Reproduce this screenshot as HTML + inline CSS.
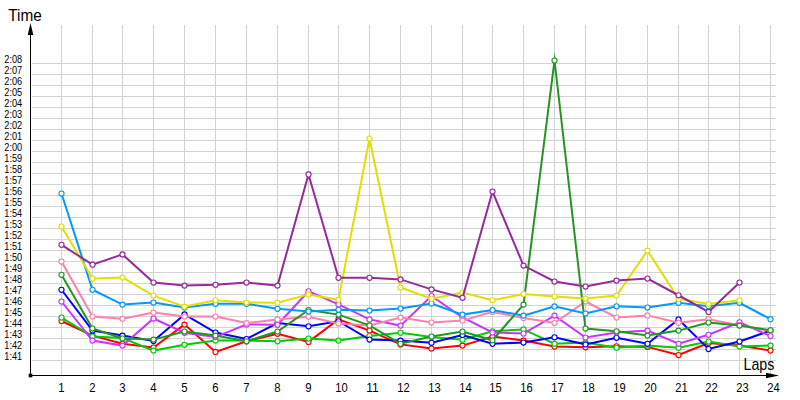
<!DOCTYPE html><html><head><meta charset="utf-8"><style>html,body{margin:0;padding:0;background:#fff}svg{display:block}text{font-family:"Liberation Sans",sans-serif;fill:#000}</style></head><body>
<svg width="800" height="400" viewBox="0 0 800 400">
<rect width="800" height="400" fill="#fff"/>
<g stroke="#d3d3d3" stroke-width="1" shape-rendering="crispEdges">
<line x1="61.5" y1="25" x2="61.5" y2="375"/>
<line x1="92.5" y1="25" x2="92.5" y2="375"/>
<line x1="122.5" y1="25" x2="122.5" y2="375"/>
<line x1="153.5" y1="25" x2="153.5" y2="375"/>
<line x1="184.5" y1="25" x2="184.5" y2="375"/>
<line x1="215.5" y1="25" x2="215.5" y2="375"/>
<line x1="246.5" y1="25" x2="246.5" y2="375"/>
<line x1="277.5" y1="25" x2="277.5" y2="375"/>
<line x1="308.5" y1="25" x2="308.5" y2="375"/>
<line x1="338.5" y1="25" x2="338.5" y2="375"/>
<line x1="369.5" y1="25" x2="369.5" y2="375"/>
<line x1="400.5" y1="25" x2="400.5" y2="375"/>
<line x1="431.5" y1="25" x2="431.5" y2="375"/>
<line x1="462.5" y1="25" x2="462.5" y2="375"/>
<line x1="492.5" y1="25" x2="492.5" y2="375"/>
<line x1="523.5" y1="25" x2="523.5" y2="375"/>
<line x1="554.5" y1="25" x2="554.5" y2="375"/>
<line x1="585.5" y1="25" x2="585.5" y2="375"/>
<line x1="616.5" y1="25" x2="616.5" y2="375"/>
<line x1="647.5" y1="25" x2="647.5" y2="375"/>
<line x1="678.5" y1="25" x2="678.5" y2="375"/>
<line x1="708.5" y1="25" x2="708.5" y2="375"/>
<line x1="739.5" y1="25" x2="739.5" y2="375"/>
<line x1="770.5" y1="25" x2="770.5" y2="375"/>
<line x1="32" y1="63.5" x2="776" y2="63.5"/>
<line x1="32" y1="74.5" x2="776" y2="74.5"/>
<line x1="32" y1="85.5" x2="776" y2="85.5"/>
<line x1="32" y1="96.5" x2="776" y2="96.5"/>
<line x1="32" y1="107.5" x2="776" y2="107.5"/>
<line x1="32" y1="118.5" x2="776" y2="118.5"/>
<line x1="32" y1="129.5" x2="776" y2="129.5"/>
<line x1="32" y1="140.5" x2="776" y2="140.5"/>
<line x1="32" y1="151.5" x2="776" y2="151.5"/>
<line x1="32" y1="162.5" x2="776" y2="162.5"/>
<line x1="32" y1="173.5" x2="776" y2="173.5"/>
<line x1="32" y1="184.5" x2="776" y2="184.5"/>
<line x1="32" y1="195.5" x2="776" y2="195.5"/>
<line x1="32" y1="206.5" x2="776" y2="206.5"/>
<line x1="32" y1="217.5" x2="776" y2="217.5"/>
<line x1="32" y1="228.5" x2="776" y2="228.5"/>
<line x1="32" y1="239.5" x2="776" y2="239.5"/>
<line x1="32" y1="250.5" x2="776" y2="250.5"/>
<line x1="32" y1="261.5" x2="776" y2="261.5"/>
<line x1="32" y1="272.5" x2="776" y2="272.5"/>
<line x1="32" y1="283.5" x2="776" y2="283.5"/>
<line x1="32" y1="294.5" x2="776" y2="294.5"/>
<line x1="32" y1="305.5" x2="776" y2="305.5"/>
<line x1="32" y1="316.5" x2="776" y2="316.5"/>
<line x1="32" y1="327.5" x2="776" y2="327.5"/>
<line x1="32" y1="338.5" x2="776" y2="338.5"/>
<line x1="32" y1="349.5" x2="776" y2="349.5"/>
<line x1="32" y1="360.5" x2="776" y2="360.5"/>
</g>
<g stroke="#000" stroke-width="1" shape-rendering="crispEdges"><line x1="30.5" y1="34" x2="30.5" y2="376"/><line x1="30" y1="375.5" x2="767" y2="375.5"/></g>
<rect x="28.7" y="373.7" width="3.6" height="3.6" fill="#000"/>
<path d="M30.5 23 L27.7 35 L33.3 35 Z" fill="#000"/>
<path d="M779 375.5 L766 372.8 L766 378.2 Z" fill="#000"/>
<text x="8.2" y="21" font-size="16.8" textLength="33.6" lengthAdjust="spacingAndGlyphs">Time</text>
<text x="743.5" y="369.7" font-size="17" textLength="30.8" lengthAdjust="spacingAndGlyphs">Laps</text>
<text x="4.3" y="63.0" font-size="10.4" textLength="17.9" lengthAdjust="spacingAndGlyphs">2:08</text>
<text x="4.3" y="74.0" font-size="10.4" textLength="17.9" lengthAdjust="spacingAndGlyphs">2:07</text>
<text x="4.3" y="85.0" font-size="10.4" textLength="17.9" lengthAdjust="spacingAndGlyphs">2:06</text>
<text x="4.3" y="96.0" font-size="10.4" textLength="17.9" lengthAdjust="spacingAndGlyphs">2:05</text>
<text x="4.3" y="107.0" font-size="10.4" textLength="17.9" lengthAdjust="spacingAndGlyphs">2:04</text>
<text x="4.3" y="118.0" font-size="10.4" textLength="17.9" lengthAdjust="spacingAndGlyphs">2:03</text>
<text x="4.3" y="129.0" font-size="10.4" textLength="17.9" lengthAdjust="spacingAndGlyphs">2:02</text>
<text x="4.3" y="140.0" font-size="10.4" textLength="17.9" lengthAdjust="spacingAndGlyphs">2:01</text>
<text x="4.3" y="151.0" font-size="10.4" textLength="17.9" lengthAdjust="spacingAndGlyphs">2:00</text>
<text x="4.3" y="162.0" font-size="10.4" textLength="17.9" lengthAdjust="spacingAndGlyphs">1:59</text>
<text x="4.3" y="173.0" font-size="10.4" textLength="17.9" lengthAdjust="spacingAndGlyphs">1:58</text>
<text x="4.3" y="184.0" font-size="10.4" textLength="17.9" lengthAdjust="spacingAndGlyphs">1:57</text>
<text x="4.3" y="195.0" font-size="10.4" textLength="17.9" lengthAdjust="spacingAndGlyphs">1:56</text>
<text x="4.3" y="206.0" font-size="10.4" textLength="17.9" lengthAdjust="spacingAndGlyphs">1:55</text>
<text x="4.3" y="217.0" font-size="10.4" textLength="17.9" lengthAdjust="spacingAndGlyphs">1:54</text>
<text x="4.3" y="228.0" font-size="10.4" textLength="17.9" lengthAdjust="spacingAndGlyphs">1:53</text>
<text x="4.3" y="239.0" font-size="10.4" textLength="17.9" lengthAdjust="spacingAndGlyphs">1:52</text>
<text x="4.3" y="250.0" font-size="10.4" textLength="17.9" lengthAdjust="spacingAndGlyphs">1:51</text>
<text x="4.3" y="261.0" font-size="10.4" textLength="17.9" lengthAdjust="spacingAndGlyphs">1:50</text>
<text x="4.3" y="272.0" font-size="10.4" textLength="17.9" lengthAdjust="spacingAndGlyphs">1:49</text>
<text x="4.3" y="283.0" font-size="10.4" textLength="17.9" lengthAdjust="spacingAndGlyphs">1:48</text>
<text x="4.3" y="294.0" font-size="10.4" textLength="17.9" lengthAdjust="spacingAndGlyphs">1:47</text>
<text x="4.3" y="305.0" font-size="10.4" textLength="17.9" lengthAdjust="spacingAndGlyphs">1:46</text>
<text x="4.3" y="316.0" font-size="10.4" textLength="17.9" lengthAdjust="spacingAndGlyphs">1:45</text>
<text x="4.3" y="327.0" font-size="10.4" textLength="17.9" lengthAdjust="spacingAndGlyphs">1:44</text>
<text x="4.3" y="338.0" font-size="10.4" textLength="17.9" lengthAdjust="spacingAndGlyphs">1:43</text>
<text x="4.3" y="349.0" font-size="10.4" textLength="17.9" lengthAdjust="spacingAndGlyphs">1:42</text>
<text x="4.3" y="360.0" font-size="10.4" textLength="17.9" lengthAdjust="spacingAndGlyphs">1:41</text>
<text x="58.3" y="392" font-size="12.6" textLength="6.3" lengthAdjust="spacingAndGlyphs">1</text>
<text x="89.3" y="392" font-size="12.6" textLength="6.3" lengthAdjust="spacingAndGlyphs">2</text>
<text x="119.3" y="392" font-size="12.6" textLength="6.3" lengthAdjust="spacingAndGlyphs">3</text>
<text x="150.3" y="392" font-size="12.6" textLength="6.3" lengthAdjust="spacingAndGlyphs">4</text>
<text x="181.3" y="392" font-size="12.6" textLength="6.3" lengthAdjust="spacingAndGlyphs">5</text>
<text x="212.3" y="392" font-size="12.6" textLength="6.3" lengthAdjust="spacingAndGlyphs">6</text>
<text x="243.3" y="392" font-size="12.6" textLength="6.3" lengthAdjust="spacingAndGlyphs">7</text>
<text x="274.3" y="392" font-size="12.6" textLength="6.3" lengthAdjust="spacingAndGlyphs">8</text>
<text x="305.3" y="392" font-size="12.6" textLength="6.3" lengthAdjust="spacingAndGlyphs">9</text>
<text x="335.3" y="392" font-size="12.6" textLength="12.4" lengthAdjust="spacingAndGlyphs">10</text>
<text x="366.3" y="392" font-size="12.6" textLength="12.4" lengthAdjust="spacingAndGlyphs">11</text>
<text x="397.3" y="392" font-size="12.6" textLength="12.4" lengthAdjust="spacingAndGlyphs">12</text>
<text x="428.3" y="392" font-size="12.6" textLength="12.4" lengthAdjust="spacingAndGlyphs">13</text>
<text x="459.3" y="392" font-size="12.6" textLength="12.4" lengthAdjust="spacingAndGlyphs">14</text>
<text x="489.3" y="392" font-size="12.6" textLength="12.4" lengthAdjust="spacingAndGlyphs">15</text>
<text x="520.3" y="392" font-size="12.6" textLength="12.4" lengthAdjust="spacingAndGlyphs">16</text>
<text x="551.3" y="392" font-size="12.6" textLength="12.4" lengthAdjust="spacingAndGlyphs">17</text>
<text x="582.3" y="392" font-size="12.6" textLength="12.4" lengthAdjust="spacingAndGlyphs">18</text>
<text x="613.3" y="392" font-size="12.6" textLength="12.4" lengthAdjust="spacingAndGlyphs">19</text>
<text x="644.3" y="392" font-size="12.6" textLength="12.4" lengthAdjust="spacingAndGlyphs">20</text>
<text x="675.3" y="392" font-size="12.6" textLength="12.4" lengthAdjust="spacingAndGlyphs">21</text>
<text x="705.3" y="392" font-size="12.6" textLength="12.4" lengthAdjust="spacingAndGlyphs">22</text>
<text x="736.3" y="392" font-size="12.6" textLength="12.4" lengthAdjust="spacingAndGlyphs">23</text>
<text x="767.3" y="392" font-size="12.6" textLength="12.4" lengthAdjust="spacingAndGlyphs">24</text>
<g stroke="#ff0000"><polyline points="61.5,321 92.5,335.6 122.5,343.75 153.5,347.5 184.5,324.6 215.5,351.9 246.5,341.25 277.5,333.75 308.5,341.9 338.5,319.4 369.5,330.6 400.5,344.4 431.5,348.5 462.5,345.6 492.5,336.5 523.5,340.6 554.5,346.5 585.5,347.25 616.5,346.25 647.5,346.9 678.5,355 708.5,343 739.5,345.6 770.5,350.6" fill="none" stroke-width="2" stroke-linejoin="miter" stroke-miterlimit="10"/>
<g fill="#fff" stroke-width="1.15"><circle cx="61.5" cy="321" r="2.55"/><circle cx="92.5" cy="335.6" r="2.55"/><circle cx="122.5" cy="343.75" r="2.55"/><circle cx="153.5" cy="347.5" r="2.55"/><circle cx="184.5" cy="324.6" r="2.55"/><circle cx="215.5" cy="351.9" r="2.55"/><circle cx="246.5" cy="341.25" r="2.55"/><circle cx="277.5" cy="333.75" r="2.55"/><circle cx="308.5" cy="341.9" r="2.55"/><circle cx="338.5" cy="319.4" r="2.55"/><circle cx="369.5" cy="330.6" r="2.55"/><circle cx="400.5" cy="344.4" r="2.55"/><circle cx="431.5" cy="348.5" r="2.55"/><circle cx="462.5" cy="345.6" r="2.55"/><circle cx="492.5" cy="336.5" r="2.55"/><circle cx="523.5" cy="340.6" r="2.55"/><circle cx="554.5" cy="346.5" r="2.55"/><circle cx="585.5" cy="347.25" r="2.55"/><circle cx="616.5" cy="346.25" r="2.55"/><circle cx="647.5" cy="346.9" r="2.55"/><circle cx="678.5" cy="355" r="2.55"/><circle cx="708.5" cy="343" r="2.55"/><circle cx="739.5" cy="345.6" r="2.55"/><circle cx="770.5" cy="350.6" r="2.55"/></g></g>
<g stroke="#00cc00"><polyline points="61.5,317.5 92.5,336.5 122.5,338 153.5,350.6 184.5,344.75 215.5,340.6 246.5,340.6 277.5,341.25 308.5,338.5 338.5,340.6 369.5,336 400.5,332.75 431.5,337 462.5,339.75 492.5,331.25 523.5,329.4 554.5,343.75 585.5,342.5 616.5,347.75 647.5,345.6 678.5,347.75 708.5,341.5 739.5,346.5 770.5,345.6" fill="none" stroke-width="2" stroke-linejoin="miter" stroke-miterlimit="10"/>
<g fill="#fff" stroke-width="1.15"><circle cx="61.5" cy="317.5" r="2.55"/><circle cx="92.5" cy="336.5" r="2.55"/><circle cx="122.5" cy="338" r="2.55"/><circle cx="153.5" cy="350.6" r="2.55"/><circle cx="184.5" cy="344.75" r="2.55"/><circle cx="215.5" cy="340.6" r="2.55"/><circle cx="246.5" cy="340.6" r="2.55"/><circle cx="277.5" cy="341.25" r="2.55"/><circle cx="308.5" cy="338.5" r="2.55"/><circle cx="338.5" cy="340.6" r="2.55"/><circle cx="369.5" cy="336" r="2.55"/><circle cx="400.5" cy="332.75" r="2.55"/><circle cx="431.5" cy="337" r="2.55"/><circle cx="462.5" cy="339.75" r="2.55"/><circle cx="492.5" cy="331.25" r="2.55"/><circle cx="523.5" cy="329.4" r="2.55"/><circle cx="554.5" cy="343.75" r="2.55"/><circle cx="585.5" cy="342.5" r="2.55"/><circle cx="616.5" cy="347.75" r="2.55"/><circle cx="647.5" cy="345.6" r="2.55"/><circle cx="678.5" cy="347.75" r="2.55"/><circle cx="708.5" cy="341.5" r="2.55"/><circle cx="739.5" cy="346.5" r="2.55"/><circle cx="770.5" cy="345.6" r="2.55"/></g></g>
<g stroke="#0000ff"><polyline points="61.5,289.75 92.5,330.6 122.5,335.6 153.5,341 184.5,314.4 215.5,332.5 246.5,339 277.5,323 308.5,326.25 338.5,321.25 369.5,339.5 400.5,340.6 431.5,342.75 462.5,335 492.5,343.75 523.5,342.5 554.5,337.25 585.5,344.4 616.5,337.75 647.5,343.75 678.5,319.4 708.5,349 739.5,341.5 770.5,330.6" fill="none" stroke-width="2" stroke-linejoin="miter" stroke-miterlimit="10"/>
<g fill="#fff" stroke-width="1.15"><circle cx="61.5" cy="289.75" r="2.55"/><circle cx="92.5" cy="330.6" r="2.55"/><circle cx="122.5" cy="335.6" r="2.55"/><circle cx="153.5" cy="341" r="2.55"/><circle cx="184.5" cy="314.4" r="2.55"/><circle cx="215.5" cy="332.5" r="2.55"/><circle cx="246.5" cy="339" r="2.55"/><circle cx="277.5" cy="323" r="2.55"/><circle cx="308.5" cy="326.25" r="2.55"/><circle cx="338.5" cy="321.25" r="2.55"/><circle cx="369.5" cy="339.5" r="2.55"/><circle cx="400.5" cy="340.6" r="2.55"/><circle cx="431.5" cy="342.75" r="2.55"/><circle cx="462.5" cy="335" r="2.55"/><circle cx="492.5" cy="343.75" r="2.55"/><circle cx="523.5" cy="342.5" r="2.55"/><circle cx="554.5" cy="337.25" r="2.55"/><circle cx="585.5" cy="344.4" r="2.55"/><circle cx="616.5" cy="337.75" r="2.55"/><circle cx="647.5" cy="343.75" r="2.55"/><circle cx="678.5" cy="319.4" r="2.55"/><circle cx="708.5" cy="349" r="2.55"/><circle cx="739.5" cy="341.5" r="2.55"/><circle cx="770.5" cy="330.6" r="2.55"/></g></g>
<g stroke="#cc33ff"><polyline points="61.5,301.5 92.5,340.6 122.5,345.6 153.5,318.5 184.5,332.75 215.5,337 246.5,324.4 277.5,324.75 308.5,291.25 338.5,304.4 369.5,319.4 400.5,325.6 431.5,296 462.5,317.5 492.5,332.5 523.5,333.5 554.5,315.6 585.5,337.5 616.5,332.5 647.5,330.6 678.5,343.75 708.5,334.75 739.5,322.25 770.5,336" fill="none" stroke-width="2" stroke-linejoin="miter" stroke-miterlimit="10"/>
<g fill="#fff" stroke-width="1.15"><circle cx="61.5" cy="301.5" r="2.55"/><circle cx="92.5" cy="340.6" r="2.55"/><circle cx="122.5" cy="345.6" r="2.55"/><circle cx="153.5" cy="318.5" r="2.55"/><circle cx="184.5" cy="332.75" r="2.55"/><circle cx="215.5" cy="337" r="2.55"/><circle cx="246.5" cy="324.4" r="2.55"/><circle cx="277.5" cy="324.75" r="2.55"/><circle cx="308.5" cy="291.25" r="2.55"/><circle cx="338.5" cy="304.4" r="2.55"/><circle cx="369.5" cy="319.4" r="2.55"/><circle cx="400.5" cy="325.6" r="2.55"/><circle cx="431.5" cy="296" r="2.55"/><circle cx="462.5" cy="317.5" r="2.55"/><circle cx="492.5" cy="332.5" r="2.55"/><circle cx="523.5" cy="333.5" r="2.55"/><circle cx="554.5" cy="315.6" r="2.55"/><circle cx="585.5" cy="337.5" r="2.55"/><circle cx="616.5" cy="332.5" r="2.55"/><circle cx="647.5" cy="330.6" r="2.55"/><circle cx="678.5" cy="343.75" r="2.55"/><circle cx="708.5" cy="334.75" r="2.55"/><circle cx="739.5" cy="322.25" r="2.55"/><circle cx="770.5" cy="336" r="2.55"/></g></g>
<g stroke="#ff80a8"><polyline points="61.5,261.5 92.5,316.5 122.5,318.75 153.5,312.5 184.5,316.5 215.5,316.5 246.5,323.1 277.5,319.4 308.5,316.75 338.5,323.5 369.5,325.5 400.5,317.6 431.5,322.5 462.5,320.6 492.5,311.9 523.5,318 554.5,323 585.5,301.5 616.5,317.5 647.5,315.4 678.5,322.75 708.5,319.2 739.5,325.2 770.5,330.9" fill="none" stroke-width="2" stroke-linejoin="miter" stroke-miterlimit="10"/>
<g fill="#fff" stroke-width="1.15"><circle cx="61.5" cy="261.5" r="2.55"/><circle cx="92.5" cy="316.5" r="2.55"/><circle cx="122.5" cy="318.75" r="2.55"/><circle cx="153.5" cy="312.5" r="2.55"/><circle cx="184.5" cy="316.5" r="2.55"/><circle cx="215.5" cy="316.5" r="2.55"/><circle cx="246.5" cy="323.1" r="2.55"/><circle cx="277.5" cy="319.4" r="2.55"/><circle cx="308.5" cy="316.75" r="2.55"/><circle cx="338.5" cy="323.5" r="2.55"/><circle cx="369.5" cy="325.5" r="2.55"/><circle cx="400.5" cy="317.6" r="2.55"/><circle cx="431.5" cy="322.5" r="2.55"/><circle cx="462.5" cy="320.6" r="2.55"/><circle cx="492.5" cy="311.9" r="2.55"/><circle cx="523.5" cy="318" r="2.55"/><circle cx="554.5" cy="323" r="2.55"/><circle cx="585.5" cy="301.5" r="2.55"/><circle cx="616.5" cy="317.5" r="2.55"/><circle cx="647.5" cy="315.4" r="2.55"/><circle cx="678.5" cy="322.75" r="2.55"/><circle cx="708.5" cy="319.2" r="2.55"/><circle cx="739.5" cy="325.2" r="2.55"/><circle cx="770.5" cy="330.9" r="2.55"/></g></g>
<g stroke="#219621"><polyline points="61.5,274.75 92.5,328.5 122.5,338.5 153.5,339.6 184.5,331.5 215.5,335.6 246.5,341.25 277.5,331.5 308.5,310 338.5,314.6 369.5,325.4 400.5,343.75 431.5,336.5 462.5,331.5 492.5,340.25 523.5,304.6 554.5,60.5 585.5,328.5 616.5,331.25 647.5,335.6 678.5,330.6 708.5,322.5 739.5,325.6 770.5,330.25" fill="none" stroke-width="2" stroke-linejoin="miter" stroke-miterlimit="10"/>
<g fill="#fff" stroke-width="1.15"><circle cx="61.5" cy="274.75" r="2.55"/><circle cx="92.5" cy="328.5" r="2.55"/><circle cx="122.5" cy="338.5" r="2.55"/><circle cx="153.5" cy="339.6" r="2.55"/><circle cx="184.5" cy="331.5" r="2.55"/><circle cx="215.5" cy="335.6" r="2.55"/><circle cx="246.5" cy="341.25" r="2.55"/><circle cx="277.5" cy="331.5" r="2.55"/><circle cx="308.5" cy="310" r="2.55"/><circle cx="338.5" cy="314.6" r="2.55"/><circle cx="369.5" cy="325.4" r="2.55"/><circle cx="400.5" cy="343.75" r="2.55"/><circle cx="431.5" cy="336.5" r="2.55"/><circle cx="462.5" cy="331.5" r="2.55"/><circle cx="492.5" cy="340.25" r="2.55"/><circle cx="523.5" cy="304.6" r="2.55"/><circle cx="554.5" cy="60.5" r="2.55"/><circle cx="585.5" cy="328.5" r="2.55"/><circle cx="616.5" cy="331.25" r="2.55"/><circle cx="647.5" cy="335.6" r="2.55"/><circle cx="678.5" cy="330.6" r="2.55"/><circle cx="708.5" cy="322.5" r="2.55"/><circle cx="739.5" cy="325.6" r="2.55"/><circle cx="770.5" cy="330.25" r="2.55"/></g></g>
<g stroke="#0099ff"><polyline points="61.5,193.5 92.5,289.75 122.5,304.6 153.5,302.5 184.5,307.5 215.5,303.75 246.5,303.75 277.5,308.75 308.5,311.5 338.5,309.75 369.5,310.6 400.5,308.5 431.5,303.5 462.5,314.6 492.5,310 523.5,315.6 554.5,306.4 585.5,313.5 616.5,306.25 647.5,307.5 678.5,302.75 708.5,306.25 739.5,302.75 770.5,319.2" fill="none" stroke-width="2" stroke-linejoin="miter" stroke-miterlimit="10"/>
<g fill="#fff" stroke-width="1.15"><circle cx="61.5" cy="193.5" r="2.55"/><circle cx="92.5" cy="289.75" r="2.55"/><circle cx="122.5" cy="304.6" r="2.55"/><circle cx="153.5" cy="302.5" r="2.55"/><circle cx="184.5" cy="307.5" r="2.55"/><circle cx="215.5" cy="303.75" r="2.55"/><circle cx="246.5" cy="303.75" r="2.55"/><circle cx="277.5" cy="308.75" r="2.55"/><circle cx="308.5" cy="311.5" r="2.55"/><circle cx="338.5" cy="309.75" r="2.55"/><circle cx="369.5" cy="310.6" r="2.55"/><circle cx="400.5" cy="308.5" r="2.55"/><circle cx="431.5" cy="303.5" r="2.55"/><circle cx="462.5" cy="314.6" r="2.55"/><circle cx="492.5" cy="310" r="2.55"/><circle cx="523.5" cy="315.6" r="2.55"/><circle cx="554.5" cy="306.4" r="2.55"/><circle cx="585.5" cy="313.5" r="2.55"/><circle cx="616.5" cy="306.25" r="2.55"/><circle cx="647.5" cy="307.5" r="2.55"/><circle cx="678.5" cy="302.75" r="2.55"/><circle cx="708.5" cy="306.25" r="2.55"/><circle cx="739.5" cy="302.75" r="2.55"/><circle cx="770.5" cy="319.2" r="2.55"/></g></g>
<g stroke="#e0e000"><polyline points="61.5,226.5 92.5,278.5 122.5,277.5 153.5,295.6 184.5,306.6 215.5,300.25 246.5,302.5 277.5,302.75 308.5,294.4 338.5,299.75 369.5,138.5 400.5,287.5 431.5,298.75 462.5,292.5 492.5,300.25 523.5,294 554.5,296.5 585.5,298.5 616.5,295.6 647.5,250.6 678.5,298.75 708.5,304 739.5,300.25" fill="none" stroke-width="2" stroke-linejoin="miter" stroke-miterlimit="10"/>
<g fill="#fff" stroke-width="1.15"><circle cx="61.5" cy="226.5" r="2.55"/><circle cx="92.5" cy="278.5" r="2.55"/><circle cx="122.5" cy="277.5" r="2.55"/><circle cx="153.5" cy="295.6" r="2.55"/><circle cx="184.5" cy="306.6" r="2.55"/><circle cx="215.5" cy="300.25" r="2.55"/><circle cx="246.5" cy="302.5" r="2.55"/><circle cx="277.5" cy="302.75" r="2.55"/><circle cx="308.5" cy="294.4" r="2.55"/><circle cx="338.5" cy="299.75" r="2.55"/><circle cx="369.5" cy="138.5" r="2.55"/><circle cx="400.5" cy="287.5" r="2.55"/><circle cx="431.5" cy="298.75" r="2.55"/><circle cx="462.5" cy="292.5" r="2.55"/><circle cx="492.5" cy="300.25" r="2.55"/><circle cx="523.5" cy="294" r="2.55"/><circle cx="554.5" cy="296.5" r="2.55"/><circle cx="585.5" cy="298.5" r="2.55"/><circle cx="616.5" cy="295.6" r="2.55"/><circle cx="647.5" cy="250.6" r="2.55"/><circle cx="678.5" cy="298.75" r="2.55"/><circle cx="708.5" cy="304" r="2.55"/><circle cx="739.5" cy="300.25" r="2.55"/></g></g>
<g stroke="#962a98"><polyline points="61.5,244.8 92.5,264.7 122.5,254.4 153.5,282.5 184.5,285.6 215.5,284.75 246.5,282.5 277.5,285.6 308.5,174.4 338.5,277.75 369.5,277.75 400.5,279.4 431.5,289.4 462.5,297.75 492.5,191.5 523.5,265.6 554.5,281.5 585.5,286.5 616.5,280.6 647.5,278.5 678.5,295.25 708.5,311.9 739.5,282.5" fill="none" stroke-width="2" stroke-linejoin="miter" stroke-miterlimit="10"/>
<g fill="#fff" stroke-width="1.15"><circle cx="61.5" cy="244.8" r="2.55"/><circle cx="92.5" cy="264.7" r="2.55"/><circle cx="122.5" cy="254.4" r="2.55"/><circle cx="153.5" cy="282.5" r="2.55"/><circle cx="184.5" cy="285.6" r="2.55"/><circle cx="215.5" cy="284.75" r="2.55"/><circle cx="246.5" cy="282.5" r="2.55"/><circle cx="277.5" cy="285.6" r="2.55"/><circle cx="308.5" cy="174.4" r="2.55"/><circle cx="338.5" cy="277.75" r="2.55"/><circle cx="369.5" cy="277.75" r="2.55"/><circle cx="400.5" cy="279.4" r="2.55"/><circle cx="431.5" cy="289.4" r="2.55"/><circle cx="462.5" cy="297.75" r="2.55"/><circle cx="492.5" cy="191.5" r="2.55"/><circle cx="523.5" cy="265.6" r="2.55"/><circle cx="554.5" cy="281.5" r="2.55"/><circle cx="585.5" cy="286.5" r="2.55"/><circle cx="616.5" cy="280.6" r="2.55"/><circle cx="647.5" cy="278.5" r="2.55"/><circle cx="678.5" cy="295.25" r="2.55"/><circle cx="708.5" cy="311.9" r="2.55"/><circle cx="739.5" cy="282.5" r="2.55"/></g></g>
</svg></body></html>
